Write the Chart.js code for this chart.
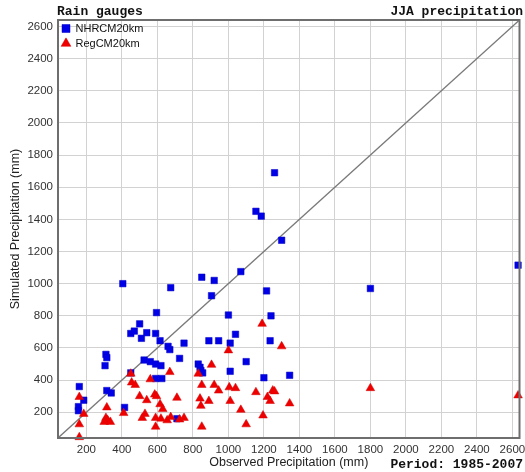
<!DOCTYPE html>
<html>
<head>
<meta charset="utf-8">
<script src="https://cdn.jsdelivr.net/npm/chart.js@4"></script>
<style>
  html, body { margin: 0; padding: 0; background: #fff; }
  #wrap { width: 525px; height: 472px; }
</style>
</head>
<body>
<div id="wrap"><canvas id="grafico"></canvas></div>
<script>
// observed (x) and simulated (y) JJA totals per gauge, mm
const nhrcmObs = [160, 185, 155, 155, 310, 315, 305, 315, 340, 415, 405, 450, 470, 500, 510, 540, 595, 590, 615, 525,
  560, 590, 620, 590, 625, 660, 670, 750, 725, 710, 450, 675, 850, 920, 1070, 905, 1215, 1000, 1040, 890,
  945, 1010, 830, 840, 845, 855, 1010, 1100, 1200, 1345, 1240, 1235, 1260, 1155, 1185, 1300, 1800, 2632];
const nhrcmSim = [360, 275, 235, 210, 560, 540, 490, 335, 320, 230, 1000, 690, 705, 750, 660, 695, 820, 690, 645, 525,
  515, 500, 490, 410, 410, 610, 590, 630, 535, 160, 445, 975, 1040, 1020, 1075, 925, 955, 805, 685, 645,
  645, 630, 500, 480, 460, 445, 455, 515, 415, 430, 800, 645, 1690, 1450, 1420, 1270, 970, 1115];

const regcmObs = [160, 185, 160, 160, 315, 310, 320, 335, 300, 410, 450, 455, 475, 500, 530, 515, 540, 560, 585, 595,
  590, 590, 615, 630, 620, 655, 670, 675, 710, 725, 750, 830, 850, 920, 945, 1005, 1040, 1155, 905, 1000,
  1190, 1300, 840, 890, 1010, 845, 1070, 1195, 1100, 850, 1250, 1260, 1220, 1235, 1345, 1800, 2632];
const regcmSim = [295, 190, 125, 45, 230, 165, 150, 140, 140, 195, 440, 385, 370, 300, 190, 165, 275, 405, 310, 300,
  110, 165, 250, 220, 160, 150, 450, 170, 290, 155, 165, 440, 370, 370, 335, 355, 350, 325, 495, 585,
  750, 610, 285, 270, 270, 240, 215, 180, 125, 110, 335, 330, 295, 270, 255, 350, 305];

const eixoMin = 40;
const eixoMax = 2640;
const marcas = [200, 400, 600, 800, 1000, 1200, 1400, 1600, 1800, 2000, 2200, 2400, 2600];

const pares = (xs, ys) => xs.map((x, i) => ({ x: x, y: ys[i] }));

// titles and the frame around the plot
const moldura = {
  id: 'moldura',
  afterLayout(chart) {
    // legend sits inside the plot, top-left corner
    if (chart.legend) chart.legend.top = chart.chartArea.top - 1;
  },
  afterDraw(chart) {
    const { ctx, chartArea: a } = chart;
    ctx.save();
    ctx.strokeStyle = '#6e6e6e';
    ctx.lineWidth = 2;
    ctx.strokeRect(a.left, a.top, a.right - a.left, a.bottom - a.top);

    ctx.fillStyle = '#111';
    ctx.font = 'bold 13px "Liberation Mono", monospace';
    ctx.textBaseline = 'middle';
    ctx.textAlign = 'left';
    ctx.fillText('Rain gauges', 57, 12);
    ctx.textAlign = 'right';
    ctx.fillText('JJA precipitation', 523, 12);
    ctx.fillText('Period: 1985-2007', 523, 465);
    ctx.restore();
  }
};

const eixo = (titulo) => ({
  type: 'linear',
  min: eixoMin,
  max: eixoMax,
  afterBuildTicks: s => { s.ticks = marcas.map(v => ({ value: v })); },
  grid: { color: '#d2d2d2', lineWidth: 1, drawTicks: false },
  border: { display: false },
  ticks: {
    color: '#333',
    font: { family: '"Liberation Sans", Arial, sans-serif', size: 11.5 },
    padding: 5,
    callback: v => String(v)
  },
  title: {
    display: true,
    text: titulo,
    color: '#222',
    font: { family: '"Liberation Sans", Arial, sans-serif', size: 12.5 },
    padding: { top: 2, bottom: 2 }
  }
});

const escalaX = eixo('Observed Precipitation (mm)');
escalaX.afterFit = s => { s.height = 34; s.paddingRight = 0; s.paddingLeft = 0; };
const escalaY = eixo('Simulated Precipitation (mm)');
escalaY.afterFit = s => { s.width = 58; s.paddingTop = 0; s.paddingBottom = 0; };
escalaY.title.padding = { top: 8, bottom: 2 };

new Chart(document.getElementById('grafico'), {
  type: 'scatter',
  data: {
    datasets: [
      {
        label: 'NHRCM20km',
        data: pares(nhrcmObs, nhrcmSim),
        pointStyle: 'rect',
        pointRadius: 4.6,
        backgroundColor: '#0000e6',
        borderColor: '#0000c8',
        borderWidth: 0.5,
        clip: false,
        order: 2
      },
      {
        label: 'RegCM20km',
        data: pares(regcmObs, regcmSim),
        pointStyle: 'triangle',
        pointRadius: 5,
        backgroundColor: '#ee0000',
        borderColor: '#d80000',
        borderWidth: 0.5,
        clip: false,
        order: 1
      },
      {
        label: '1:1',
        type: 'line',
        data: [{ x: eixoMin, y: eixoMin }, { x: eixoMax, y: eixoMax }],
        borderColor: '#7a7a7a',
        borderWidth: 1.3,
        pointRadius: 0,
        order: 3
      }
    ]
  },
  options: {
    responsive: true,
    maintainAspectRatio: false,
    animation: false,
    layout: { padding: { top: 20, right: 4, bottom: 0, left: 0 } },
    scales: { x: escalaX, y: escalaY },
    plugins: {
      tooltip: { enabled: false },
      legend: {
        position: 'chartArea',
        align: 'start',
        padding: 4,
        labels: {
          usePointStyle: true,
          boxWidth: 8,
          boxHeight: 8,
          padding: 4,
          color: '#111',
          font: { family: '"Liberation Sans", Arial, sans-serif', size: 11 },
          filter: item => item.text !== '1:1',
          sort: (a, b) => a.datasetIndex - b.datasetIndex
        }
      }
    }
  },
  plugins: [moldura]
});
</script>
</body>
</html>
